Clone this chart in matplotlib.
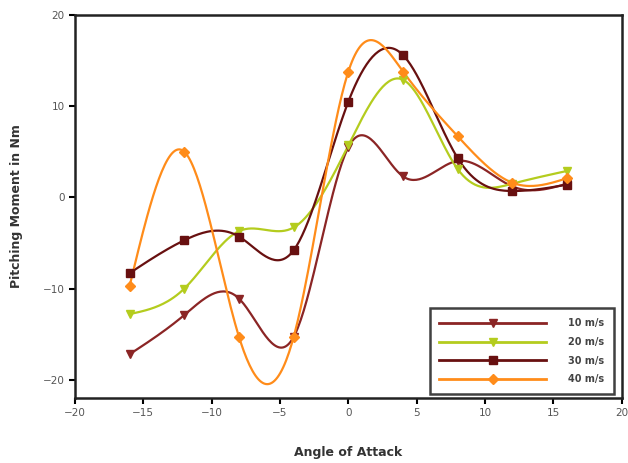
import numpy as np
import matplotlib.pyplot as plt

angles = [-16, -12, -8, -4, 0, 4, 8, 12, 16]
m10 = [-17.2, -12.9, -11.1, -15.3, 5.5, 2.3, 4.0, 1.2, 1.5]
m20 = [-12.8, -10.0, -3.7, -3.3, 5.7, 12.9, 3.1, 1.5, 2.9]
m30 = [-8.3, -4.7, -4.3, -5.8, 10.5, 15.6, 4.3, 0.7, 1.4]
m40 = [-9.7, 5.0, -15.3, -15.3, 13.8, 13.8, 6.7, 1.6, 2.1]
labels = ['10 m/s', '20 m/s', '30 m/s', '40 m/s']


def natural_spline(x, y, n=300):
    # natural cubic spline through the data points, like the smoothed line in the original
    x = np.asarray(x, float)
    y = np.asarray(y, float)
    k = len(x)
    h = np.diff(x)
    A = np.zeros((k, k))
    b = np.zeros(k)
    A[0, 0] = A[-1, -1] = 1
    for i in range(1, k - 1):
        A[i, i - 1] = h[i - 1]
        A[i, i] = 2 * (h[i - 1] + h[i])
        A[i, i + 1] = h[i]
        b[i] = 6 * ((y[i + 1] - y[i]) / h[i] - (y[i] - y[i - 1]) / h[i - 1])
    M = np.linalg.solve(A, b)
    xs = np.linspace(x[0], x[-1], n)
    idx = np.clip(np.searchsorted(x, xs) - 1, 0, k - 2)
    x0, x1 = x[idx], x[idx + 1]
    hh = x1 - x0
    t0 = x1 - xs
    t1 = xs - x0
    ys = (M[idx] * t0 ** 3 + M[idx + 1] * t1 ** 3) / (6 * hh) \
        + (y[idx] / hh - M[idx] * hh / 6) * t0 + (y[idx + 1] / hh - M[idx + 1] * hh / 6) * t1
    return xs, ys


fig = plt.figure(figsize=(6.28, 4.63), dpi=100)
ax = fig.add_axes([0.1194, 0.1404, 0.8706, 0.8272])

series = [m10, m20, m30, m40]
colors = ['#8b2525', '#b4cc1e', '#681010', '#ff8c1a']
markers = ['v', 'v', 's', 'D']

for vals, col, mk, lab in zip(series, colors, markers, labels):
    xs, ys = natural_spline(angles, vals)
    ax.plot(xs, ys, color=col, lw=1.6, zorder=2)
    ax.plot(angles, vals, ls='none', marker=mk, color=col, ms=5.5, zorder=3)
    ax.plot([], [], color=col, lw=2, marker=mk, ms=5.5, label=lab)

ax.set_xlim(-20, 20)
ax.set_ylim(-22, 20)
ax.set_xticks(np.arange(-20, 21, 5))
ax.set_yticks([-20, -10, 0, 10, 20])

for s in ax.spines.values():
    s.set_linewidth(1.8)
    s.set_color('#222222')
ax.tick_params(direction='out', length=4, width=1.5, labelsize=7.5, labelcolor='#555555')

ax.set_xlabel('Angle of Attack', fontsize=9, fontweight='bold', color='#333333', labelpad=20)
ax.set_ylabel('Pitching Moment in Nm', fontsize=9, fontweight='bold', color='#333333', labelpad=14)

leg = ax.legend(loc='lower right', bbox_to_anchor=(0.985, 0.01), fontsize=7, frameon=True,
                handlelength=11, handletextpad=2.2, labelspacing=0.9, borderpad=1.0,
                borderaxespad=0, fancybox=False)
leg.get_frame().set_edgecolor('#111111')
leg.get_frame().set_linewidth(1.8)
for t in leg.get_texts():
    t.set_fontweight('bold')
    t.set_color('#444444')

fig.savefig('out.png', dpi=100)
